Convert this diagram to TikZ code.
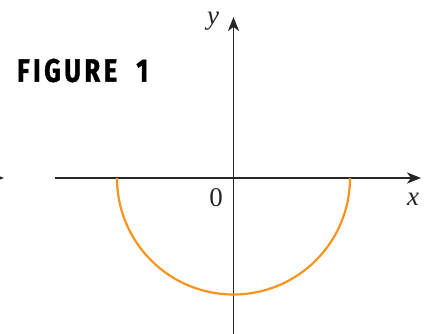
\documentclass[tikz,border=0pt]{standalone}
\usepackage{fontspec}
\setmainfont{Liberation Serif}
\newfontfamily\figfont[LetterSpace=14,FakeBold=1.5]{Fira Sans}
\usetikzlibrary{arrows.meta}
\definecolor{axisgray}{HTML}{262626}
\definecolor{curveorange}{HTML}{F7941D}
\begin{document}
\begin{tikzpicture}[x=1pt,y=1pt,
  axisline/.style={draw=axisgray,line width=1.9pt,-{Stealth[length=14pt,width=11pt,inset=4pt]}},
  lbl/.style={font=\fontsize{27}{27}\selectfont,text=axisgray,inner sep=0pt}]
\useasboundingbox (0,0) rectangle (426,-334);
% fragment of a neighbouring axis at the left edge
\coordinate (fs) at (-30,-178);
\coordinate (fe) at (4,-178);
\draw[axisline] (fs) -- (fe);
% axes
\coordinate (xs) at (55,-178);
\coordinate (xe) at (421,-178);
\coordinate (ys) at (233.5,-340);
\coordinate (ye) at (233.5,-17);
\coordinate (O) at (233.5,-178);
\draw[axisline] (xs) -- (xe);
\draw[axisline] (ys) -- (ye);
% semicircle
\coordinate (L) at (117,-178);
\draw[curveorange,line width=2.2pt] (L) arc[start angle=180,end angle=360,radius=116.5];
% labels
\node[lbl] (ylab) at (213,-21) {\itshape y};
\node[lbl] (zero) at (216,-198) {0};
\node[lbl] (xlab) at (413,-199) {\itshape x};
\node[anchor=west,inner sep=0pt] (fig) at (17,-70.5)
  {\resizebox{131pt}{23pt}{\figfont\bfseries FIGURE\hspace{0.75em}1}};
\end{tikzpicture}
\end{document}
